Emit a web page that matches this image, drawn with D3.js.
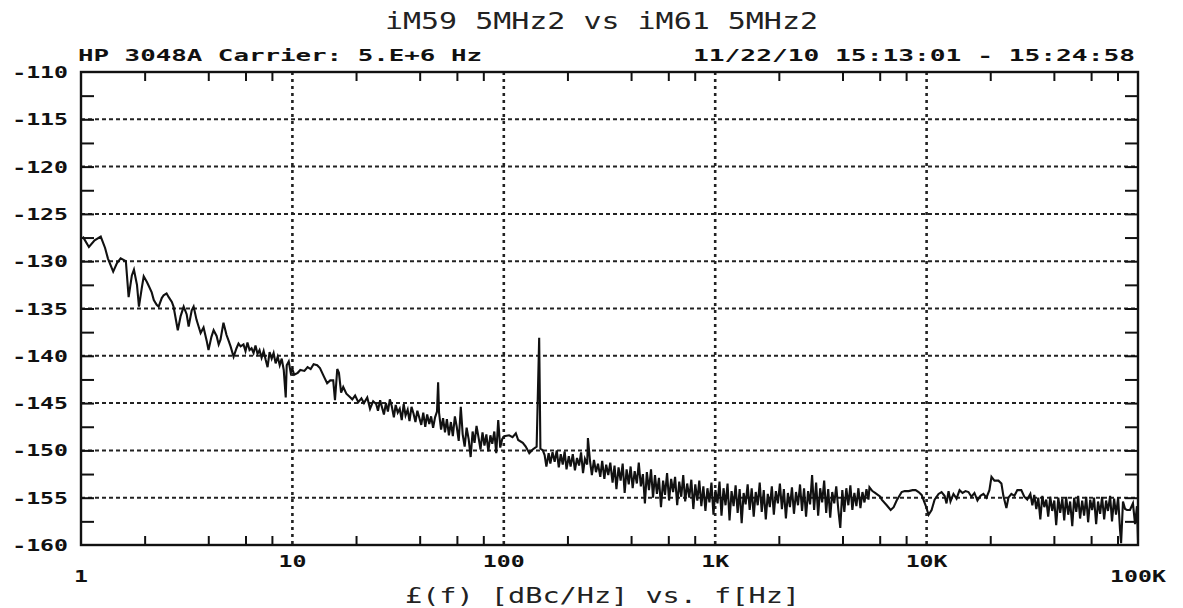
<!DOCTYPE html>
<html>
<head>
<meta charset="utf-8">
<script src="https://cdn.jsdelivr.net/npm/d3@7"></script>
<style>
  body { margin: 0; background: #fff; }
  svg { display: block; }
  .lbl { font-family: "DejaVu Sans Mono", monospace; font-weight: bold; font-size: 16px; fill: #111; }
  .thin { font-family: "DejaVu Sans Mono", monospace; fill: #222; }
</style>
</head>
<body>
<div id="chart"></div>
<script>
// chart text
const title = 'iM59 5MHz2 vs iM61 5MHz2';
const headLeft = 'HP 3048A   Carrier: 5.E+6 Hz';
const headRight = '11/22/10  15:13:01 - 15:24:58';
const xTitle = '£(f) [dBc/Hz] vs. f[Hz]';

// axes
const yTicks = [-110, -115, -120, -125, -130, -135, -140, -145, -150, -155, -160];
const xTicks = [1, 10, 100, 1e3, 1e4, 1e5];
const xTickLabels = ['1', '10', '100', '1K', '10K', '100K'];
const minorMult = [2, 4, 6, 8];

// trace, one pair of arrays per decade
const freq1 = [1.02,1.09,1.16,1.24,1.30,1.34,1.42,1.48,1.54,1.63,1.68,1.74,1.78,1.84,1.88,1.94,1.98,2.05,2.09,2.16,2.21,2.28,2.33,2.41,2.46,2.54,2.60,2.69,2.74,2.87,2.96,3.06,3.16,3.23,3.34,3.41,3.52,3.68,3.80,3.93,4.01,4.14,4.24,4.38,4.48,4.57,4.72,4.88,4.99,5.10,5.27,5.44,5.56,5.69,5.87,6.00,6.13,6.27,6.41,6.55,6.69,6.84,6.99,7.15,7.31,7.47,7.63,7.80,7.98,8.15,8.33,8.52,8.71,8.90,9.10,9.30,9.40,9.61,9.82,10.0];
const lev1 = [-127.4,-128.5,-127.8,-127.4,-128.6,-129.7,-131.1,-130.2,-129.7,-130.0,-133.8,-131.5,-130.9,-132.5,-134.8,-132.8,-131.6,-132.2,-132.6,-133.3,-134.1,-134.6,-134.8,-133.9,-133.6,-133.4,-133.8,-134.3,-134.8,-137.3,-135.8,-134.8,-135.6,-136.9,-135.2,-134.8,-136.2,-137.6,-137.0,-138.4,-139.4,-138.0,-137.3,-137.9,-138.8,-138.3,-136.5,-137.8,-138.4,-139.0,-140.1,-139.2,-138.7,-139.0,-138.8,-139.5,-138.6,-139.4,-139.2,-139.7,-138.9,-139.8,-139.4,-140.2,-139.5,-140.4,-141.2,-139.6,-140.3,-139.7,-140.8,-140.1,-141.0,-140.3,-141.5,-144.4,-141.0,-140.6,-141.8,-141.4];

const freq2 = [10.2,10.6,10.9,11.4,11.8,12.2,12.6,13.1,13.5,14.1,14.6,15.1,15.6,15.9,16.3,16.6,17.0,17.4,18.0,18.6,19.2,19.8,20.5,21.2,21.8,22.6,23.3,24.1,24.9,25.4,26.0,26.5,27.1,27.7,28.3,28.9,29.5,30.2,30.8,31.5,32.2,32.9,33.6,34.3,35.1,35.8,36.6,37.4,38.2,39.0,39.9,40.7,41.6,42.5,43.4,44.4,45.3,46.3,47.3,48.3,48.9,49.4,50.5,51.6,52.7,53.8,55.0,56.2,57.4,58.7,59.9,61.2,62.6,63.9,65.3,66.7,68.2,69.7,71.2,72.7,74.3,75.9,77.6,79.3,81.0,82.7,84.5,86.4,88.2,90.2,92.1,94.1,96.2,98.3];
const lev2 = [-142.0,-141.8,-141.5,-141.6,-141.2,-141.4,-140.9,-141.0,-141.3,-142.2,-142.9,-142.6,-142.6,-144.7,-141.4,-141.8,-143.9,-143.3,-144.0,-144.3,-144.6,-144.2,-144.9,-144.5,-145.0,-144.4,-145.6,-144.8,-145.1,-145.8,-144.7,-145.4,-146.2,-145.0,-145.9,-144.6,-145.3,-146.5,-145.2,-146.0,-145.6,-146.8,-145.1,-146.3,-145.7,-146.9,-145.4,-146.1,-147.0,-145.8,-146.6,-147.3,-146.0,-147.5,-146.2,-147.2,-146.4,-147.6,-146.5,-145.9,-142.8,-146.0,-147.8,-146.6,-148.1,-146.7,-148.4,-147.0,-148.5,-146.4,-147.5,-149.0,-145.4,-148.3,-149.6,-147.6,-148.8,-150.7,-148.0,-149.2,-147.4,-148.6,-149.9,-148.1,-149.5,-148.3,-150.1,-148.4,-149.3,-148.0,-150.3,-146.8,-149.7,-148.8];

const freq3 = [100.4,106,110,114,117,123,127,132,137,143,147,149,153,156,159,163,166,170,174,178,182,186,190,194,198,203,207,212,217,222,227,232,237,242,248,250,256,261,267,273,279,286,292,299,305,312,319,327,334,341,349,357,365,373,381,390,398,407,416,426,435,445,455,465,475,486,497,508,519,530,542,554,567,579,592,605,619,632,646,661,676,691,706,721,737,754,771,788,805,823,841,860,879,899,919,939,960,981,1003];
const lev3 = [-148.5,-148.4,-148.6,-148.2,-148.9,-149.2,-149.6,-150.3,-149.9,-149.6,-138.1,-149.8,-150.0,-150.5,-151.7,-150.3,-151.4,-150.2,-151.2,-150.0,-151.8,-150.4,-151.5,-150.1,-152.0,-150.6,-151.7,-150.4,-152.1,-150.8,-151.6,-150.2,-152.4,-150.9,-151.5,-148.7,-151.2,-152.6,-151.0,-152.3,-151.4,-152.8,-151.1,-153.0,-151.5,-152.6,-151.3,-153.4,-151.6,-154.1,-151.8,-153.2,-151.4,-154.5,-152.0,-153.6,-151.7,-154.0,-152.2,-153.5,-151.3,-153.8,-152.5,-155.6,-152.3,-154.2,-152.0,-155.0,-152.6,-154.6,-152.9,-156.0,-153.2,-154.7,-152.4,-155.3,-153.0,-154.4,-152.8,-155.8,-153.3,-154.9,-152.6,-155.4,-153.5,-155.0,-153.1,-156.2,-153.6,-155.3,-153.2,-155.9,-153.8,-156.4,-154.0,-155.5,-153.4,-156.8,-154.2];

const freq4 = [1025,1048,1071,1095,1119,1144,1169,1195,1222,1249,1277,1305,1334,1363,1393,1424,1456,1488,1521,1555,1589,1624,1660,1697,1735,1773,1813,1853,1894,1936,1979,2023,2068,2113,2160,2208,2257,2307,2358,2411,2464,2519,2575,2632,2690,2750,2811,2873,2937,3002,3069,3137,3206,3277,3350,3424,3500,3578,3657,3738,3821,3906,3993,4081,4172,4264,4359,4455,4554,4655,4758,4864,4972,5082,5194,5309,5367,5541,5707,6039,6135,6477,6761,6985,7217,7621,7875,8222,8586,8873,9166,9471,9890];
const lev4 = [-155.6,-153.3,-156.9,-154.0,-155.8,-153.5,-157.4,-154.3,-155.9,-153.7,-156.6,-154.1,-157.7,-154.5,-155.7,-153.6,-156.3,-154.0,-157.0,-154.4,-155.8,-153.4,-156.5,-154.2,-157.3,-154.6,-156.0,-153.8,-156.8,-154.3,-155.6,-153.5,-156.2,-154.1,-157.2,-154.5,-156.0,-153.9,-156.7,-154.4,-155.8,-153.6,-156.4,-154.0,-157.0,-154.3,-155.7,-152.6,-156.3,-153.4,-156.9,-154.0,-155.5,-153.2,-156.6,-154.1,-157.1,-154.4,-155.6,-153.8,-156.2,-158.2,-154.2,-156.5,-154.0,-155.8,-153.7,-156.3,-154.5,-155.9,-154.0,-156.1,-154.4,-155.5,-154.1,-155.2,-153.9,-154.3,-154.5,-154.9,-155.2,-155.8,-156.3,-156.0,-155.3,-154.4,-154.3,-154.3,-154.2,-154.2,-154.4,-154.7,-155.8];

const freq5 = [10220,10560,10910,11390,11770,12160,12420,12700,12970,13400,13860,14320,14790,15280,15780,16300,16840,17400,17980,18570,19190,19820,20270,20940,21870,22590,23080,23850,24380,25180,26010,26870,28050,28980,29930,30960,31640,32300,33030,33750,34510,35270,36050,36820,37600,38450,39290,40180,41020,41980,42850,43850,44770,45710,46770,47750,48870,49890,51050,52120,53210,54450,55590,56890,58080,59430,60670,61940,63390,64710,66220,67610,69180,70630,72110,73790,75340,77090,78710,80540,82220,83180,84920,86900,88720,91620,94650,96830,98870,100000];
const lev5 = [-156.8,-156.3,-155.2,-154.6,-154.4,-154.8,-155.6,-154.3,-155.4,-154.6,-155.1,-154.2,-154.5,-154.3,-154.4,-154.9,-154.5,-155.3,-154.8,-154.6,-155.0,-154.2,-152.8,-153.2,-153.2,-153.5,-154.8,-156.1,-155.0,-154.6,-154.8,-154.2,-154.2,-154.9,-155.2,-154.6,-155.8,-154.7,-156.2,-155.0,-157.3,-154.8,-156.0,-155.2,-157.0,-154.9,-156.4,-155.3,-157.9,-155.0,-156.6,-155.1,-157.4,-154.9,-156.8,-155.4,-158.0,-155.0,-156.5,-154.8,-157.2,-155.3,-156.9,-154.9,-157.6,-155.2,-156.3,-155.0,-157.8,-155.4,-156.7,-154.9,-157.3,-155.3,-156.4,-154.8,-157.5,-155.1,-156.8,-155.0,-158.4,-159.8,-155.4,-156.2,-156.3,-156.3,-155.6,-157.8,-155.9,-159.5];

const trace = [].concat(
  d3.zip(freq1, lev1), d3.zip(freq2, lev2), d3.zip(freq3, lev3),
  d3.zip(freq4, lev4), d3.zip(freq5, lev5)
);

const width = 1183, height = 608;
const svg = d3.select('#chart').append('svg')
  .attr('width', width)
  .attr('height', height);

const xScale = d3.scaleLog().domain([1, 1e5]).range([81, 1138]);
const yScale = d3.scaleLinear().domain([-110, -160]).range([72, 545]);
const [x0, x1] = xScale.range();
const [y0, y1] = yScale.range();

// grid
svg.append('g').selectAll('line')
  .data(yTicks.slice(1, -1))
  .enter().append('line')
  .attr('x1', x0).attr('x2', x1)
  .attr('y1', d => yScale(d)).attr('y2', d => yScale(d))
  .attr('stroke', '#222').attr('stroke-width', 2)
  .attr('stroke-dasharray', '4,3');

svg.append('g').selectAll('line')
  .data(xTicks.slice(1, -1))
  .enter().append('line')
  .attr('x1', d => xScale(d)).attr('x2', d => xScale(d))
  .attr('y1', y0).attr('y2', y1)
  .attr('stroke', '#222').attr('stroke-width', 2.6)
  .attr('stroke-dasharray', '3,4');

// inward ticks
const minorX = [];
xTicks.slice(0, -1).forEach(d => minorMult.forEach(m => minorX.push(d * m)));
const yMinor = d3.range(-112.5, -158, -2.5);

const tickStyle = g => {
  g.select('.domain').remove();
  g.selectAll('.tick line').attr('stroke', '#111').attr('stroke-width', 2);
};

svg.append('g')
  .attr('transform', `translate(0, ${y1})`)
  .call(d3.axisBottom(xScale).tickValues(minorX).tickSize(-9).tickFormat(''))
  .call(tickStyle);
svg.append('g')
  .attr('transform', `translate(0, ${y0})`)
  .call(d3.axisTop(xScale).tickValues(minorX).tickSize(-9).tickFormat(''))
  .call(tickStyle);
svg.append('g')
  .attr('transform', `translate(${x0}, 0)`)
  .call(d3.axisLeft(yScale).tickValues(yMinor).tickSize(-13).tickFormat(''))
  .call(tickStyle);
svg.append('g')
  .attr('transform', `translate(${x1}, 0)`)
  .call(d3.axisRight(yScale).tickValues(yMinor).tickSize(-13).tickFormat(''))
  .call(tickStyle);

// trace
const line = d3.line()
  .x(d => xScale(d[0]))
  .y(d => yScale(d[1]));

svg.append('path')
  .datum(trace)
  .attr('d', line)
  .attr('fill', 'none')
  .attr('stroke', '#111')
  .attr('stroke-width', 2.1)
  .attr('stroke-linejoin', 'miter');

// frame
svg.append('rect')
  .attr('x', x0).attr('y', y0)
  .attr('width', x1 - x0).attr('height', y1 - y0)
  .attr('fill', 'none').attr('stroke', '#111').attr('stroke-width', 2.4);

// labels
svg.append('g').selectAll('text')
  .data(yTicks)
  .enter().append('text')
  .attr('class', 'lbl')
  .attr('text-anchor', 'end')
  .attr('transform', d => `translate(68, ${yScale(d) + 6}) scale(1.45, 1)`)
  .text(d => String(d));

svg.append('g').selectAll('text')
  .data(xTicks)
  .enter().append('text')
  .attr('class', 'lbl')
  .attr('text-anchor', 'middle')
  .attr('transform', (d, i) => {
    const low = i === 0 || i === xTicks.length - 1;
    return `translate(${xScale(d)}, ${low ? 582 : 567}) scale(1.45, 1)`;
  })
  .text((d, i) => xTickLabels[i]);

svg.append('text')
  .attr('class', 'lbl')
  .attr('x', 78).attr('y', 61)
  .attr('textLength', 404).attr('lengthAdjust', 'spacingAndGlyphs')
  .text(headLeft);

svg.append('text')
  .attr('class', 'lbl')
  .attr('x', 693).attr('y', 61)
  .attr('textLength', 442).attr('lengthAdjust', 'spacingAndGlyphs')
  .text(headRight);

svg.append('text')
  .attr('class', 'thin')
  .attr('x', 385).attr('y', 29)
  .attr('font-size', 23)
  .attr('textLength', 433).attr('lengthAdjust', 'spacingAndGlyphs')
  .text(title);

svg.append('text')
  .attr('class', 'thin')
  .attr('x', 405).attr('y', 603)
  .attr('font-size', 21)
  .attr('textLength', 395).attr('lengthAdjust', 'spacingAndGlyphs')
  .text(xTitle);
</script>
</body>
</html>
